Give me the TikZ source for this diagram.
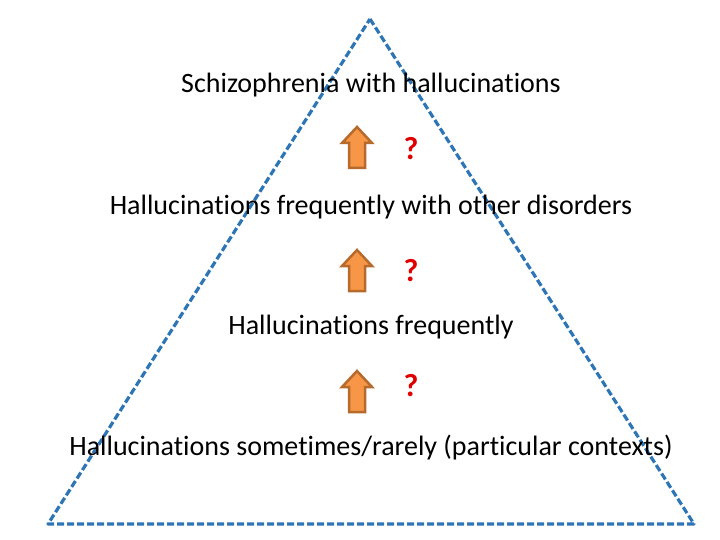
\documentclass[tikz,border=0pt]{standalone}
\usepackage{fontspec}
\setmainfont[Ligatures=NoCommon]{Carlito}
\definecolor{triblue}{HTML}{2E75B6}
\definecolor{arrfill}{HTML}{F79646}
\definecolor{arredge}{HTML}{B66A2C}
\definecolor{qred}{HTML}{E00000}
\begin{document}
\begin{tikzpicture}[x=1pt,y=-1pt,
  lbl/.style={font=\fontsize{28}{32}\selectfont, inner sep=0pt, anchor=center},
  qmark/.style={font=\fontsize{32}{36}\selectfont\bfseries, text=qred, inner sep=0pt},
  upar/.style={fill=arrfill, draw=arredge, line width=2.5pt, line join=miter},
  tri/.style={draw=triblue, line width=3.2pt, dash pattern=on 7pt off 3pt, line join=round}]
\useasboundingbox (0,0) rectangle (720,540);
\coordinate (apex) at (370,19);
\coordinate (bl) at (48,524);
\coordinate (br) at (694,524);
\draw[tri] (apex) -- (br) -- (bl) -- cycle;
\node[lbl] (t1) at (371,85) {Schizophrenia with hallucinations};
\node[lbl] (t2) at (371,207) {Hallucinations frequently with other disorders};
\node[lbl] (t3) at (371,327) {Hallucinations frequently};
\node[lbl] (t4) at (371,448) {Hallucinations sometimes/rarely (particular contexts)};
\foreach \n/\y in {1/127, 2/250, 3/371} {
  \coordinate (a\n) at (357,\y);
  \draw[upar] (a\n) -- ++(15,16) -- ++(-7,0) -- ++(0,25) -- ++(-16,0) -- ++(0,-25) -- ++(-7,0) -- cycle;
}
\node[qmark] (q1) at (411,149) {?};
\node[qmark] (q2) at (411,271) {?};
\node[qmark] (q3) at (411,386) {?};
\end{tikzpicture}
\end{document}
